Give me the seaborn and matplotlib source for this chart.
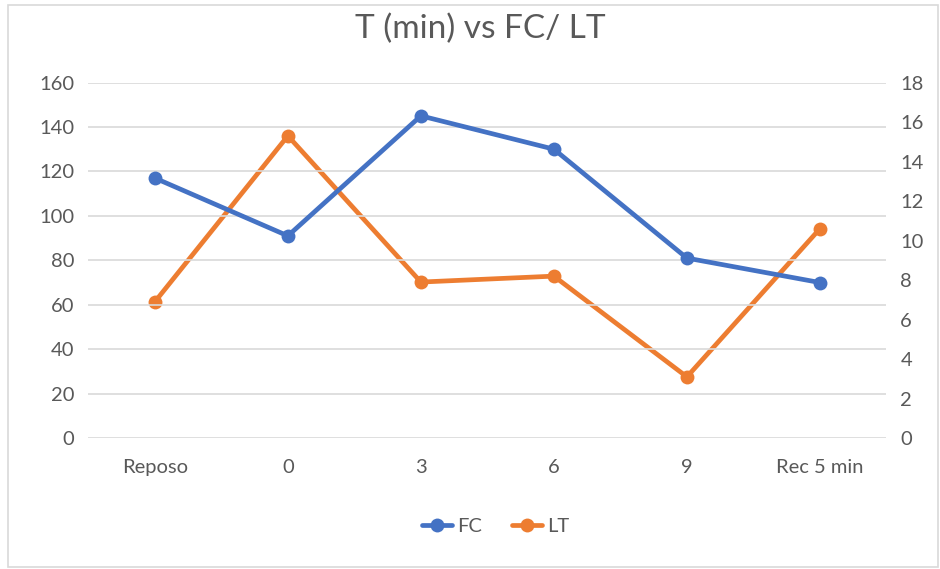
import matplotlib
matplotlib.use("Agg")
import matplotlib.pyplot as plt
from matplotlib.patches import Rectangle
from matplotlib.lines import Line2D
import seaborn as sns
import pandas as pd

categories = ["Reposo", "0", "3", "6", "9", "Rec 5 min"]
fc_values = [117, 91, 145, 130, 81, 70]
lt_values = [6.9, 15.3, 7.9, 8.2, 3.1, 10.6]
left_ticks = [0, 20, 40, 60, 80, 100, 120, 140, 160]
right_ticks = [0, 2, 4, 6, 8, 10, 12, 14, 16, 18]

BLUE = "#4472C4"
ORANGE = "#ED7D31"
GRID = "#d9d9d9"
TEXT = "#595959"

sns.set_theme(style="white")
plt.rcParams["font.family"] = ["Lato", "DejaVu Sans"]

df = pd.DataFrame({"T": categories, "FC": fc_values, "LT": lt_values})

fig = plt.figure(figsize=(9.4, 5.69), dpi=100)
ax = fig.add_axes([0.094, 0.230, 0.849, 0.625])
ax2 = ax.twinx()

sns.lineplot(data=df, x="T", y="FC", ax=ax, color=BLUE, linewidth=3.4,
             marker="o", markersize=10, markeredgewidth=0, sort=False)
sns.lineplot(data=df, x="T", y="LT", ax=ax2, color=ORANGE, linewidth=3.4,
             marker="o", markersize=10, markeredgewidth=0, sort=False)

ax.set_xlim(-0.5, len(categories) - 0.5)
ax.set_ylim(0, 160)
ax2.set_ylim(0, 18)
ax.set_yticks(left_ticks)
ax2.set_yticks(right_ticks)

ax.yaxis.grid(True, color=GRID, linewidth=1.2)
ax.xaxis.grid(False)
ax2.grid(False)
for a in (ax, ax2):
    for s in a.spines.values():
        s.set_visible(False)
    a.set_xlabel("")
    a.set_ylabel("")
    a.tick_params(axis="both", length=0, labelsize=14.5, labelcolor=TEXT)
ax.tick_params(axis="x", pad=15)
ax.tick_params(axis="y", pad=10)
ax2.tick_params(axis="y", pad=10)
ax.set_zorder(ax2.get_zorder() + 1)
ax.patch.set_visible(False)

fig.text(0.511, 0.949, "T (min) vs FC/ LT", ha="center", va="center",
         fontsize=24, color=TEXT)

handles = [
    Line2D([], [], color=BLUE, linewidth=3.4, marker="o", markersize=10, markeredgewidth=0),
    Line2D([], [], color=ORANGE, linewidth=3.4, marker="o", markersize=10, markeredgewidth=0),
]
fig.legend(handles, ["FC", "LT"], loc="center", bbox_to_anchor=(0.527, 0.074),
           ncol=2, frameon=False, fontsize=14.5, labelcolor=TEXT,
           handlelength=1.5, handletextpad=0.25, columnspacing=1.5)

fig.patches.append(Rectangle((0.008, 0.004), 0.99, 0.988, transform=fig.transFigure,
                             fill=False, edgecolor=GRID, linewidth=1.2))

fig.savefig("out.png", dpi=100)
